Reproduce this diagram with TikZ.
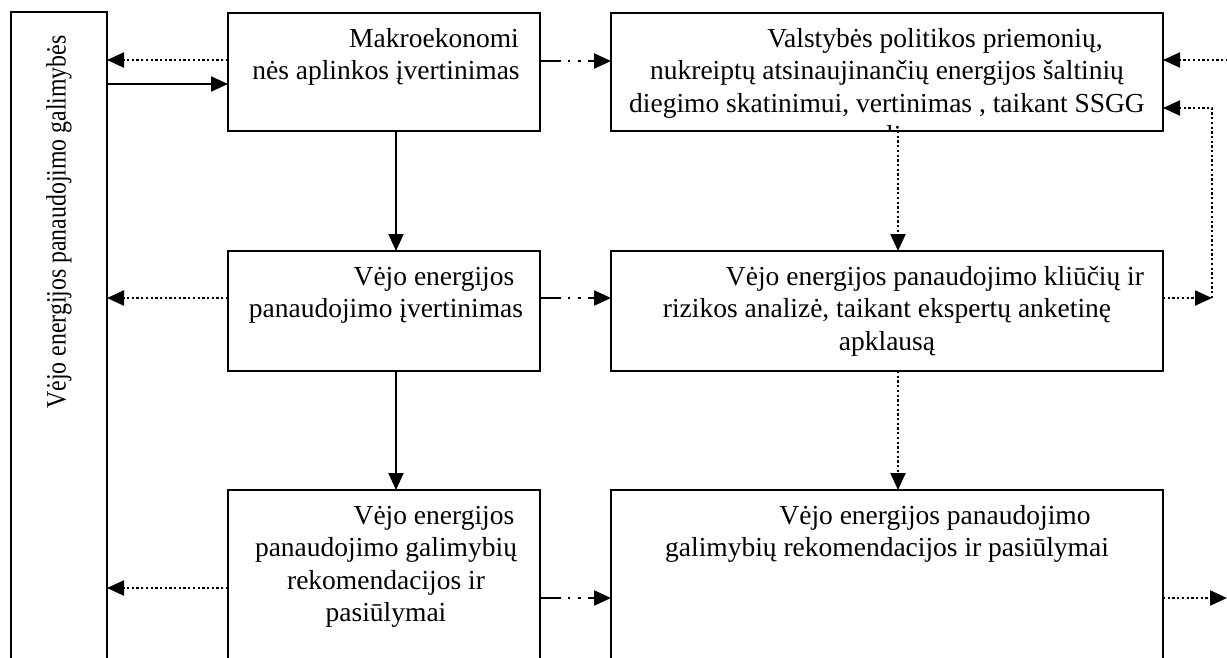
\documentclass[tikz,border=0pt]{standalone}
\usepackage{fontspec}
\setmainfont{Liberation Serif}
\usetikzlibrary{arrows.meta}
\begin{document}
\begin{tikzpicture}[x=1pt,y=-1pt,
  box/.style={draw, line width=1.8pt, anchor=north west, inner sep=0pt, outer sep=0pt},
  txt/.style={anchor=north, align=center, inner sep=0pt, font=\fontsize{27.5}{32.5}\selectfont},
  tip/.style={-{Triangle[length=17pt,width=15pt]}},
  sol/.style={tip, line width=2pt},
  dotl/.style={tip, line width=2.2pt, dash pattern=on 2.3pt off 2.4pt},
  ddl/.style={tip, line width=2.2pt, dash pattern=on 21pt off 7pt on 2.3pt off 8pt on 2.3pt off 7pt}]
\clip (0,0) rectangle (1227,657);
\fill[white] (0,0) rectangle (1227,657);
% boxes
\node[box, minimum width=96pt, minimum height=700pt] (L) at (11,12) {};
\node[box, minimum width=312pt, minimum height=118pt] (A) at (228,13) {};
\node[box, minimum width=552pt, minimum height=118pt] (B) at (611,13) {};
\node[box, minimum width=312pt, minimum height=120pt] (C) at (228,251) {};
\node[box, minimum width=552pt, minimum height=120pt] (D) at (611,251) {};
\node[box, minimum width=312pt, minimum height=250pt] (E) at (228,490) {};
\node[box, minimum width=552pt, minimum height=250pt] (F) at (611,490) {};
% texts
\node[rotate=90, inner sep=0pt, font=\fontsize{28}{32}\selectfont] (Lt) at (59,222) {\scalebox{0.85}[1]{Vėjo energijos panaudojimo galimybės}};
\node[txt] (At) at (386,25) {\rule{0pt}{22pt}\hspace*{96pt}Makroekonomi\\nės aplinkos įvertinimas};
\begin{scope}
\clip (B.north west) rectangle (B.south east);
\node[txt] (Bt) at (887,25) {\rule{0pt}{22pt}\hspace*{96pt}Valstybės politikos priemonių,\\nukreiptų atsinaujinančių energijos šaltinių\\diegimo skatinimui, vertinimas , taikant SSGG\\analizę};
\end{scope}
\node[txt] (Ct) at (386,263) {\rule{0pt}{22pt}\hspace*{96pt}Vėjo energijos\\panaudojimo įvertinimas};
\node[txt] (Dt) at (887,263) {\rule{0pt}{22pt}\hspace*{96pt}Vėjo energijos panaudojimo kliūčių ir\\rizikos analizė, taikant ekspertų anketinę\\apklausą};
\node[txt] (Et) at (386,502) {\rule{0pt}{22pt}\hspace*{96pt}Vėjo energijos\\panaudojimo galimybių\\rekomendacijos ir\\pasiūlymai};
\node[txt] (Ft) at (887,502) {\rule{0pt}{22pt}\hspace*{96pt}Vėjo energijos panaudojimo\\galimybių rekomendacijos ir pasiūlymai};
% free ends on the right
\coordinate (r1) at (1228,60);
\coordinate (r2) at (1212,108);
\coordinate (r3) at (1212,298);
\coordinate (r4) at (1227,598);
% left connectors
\draw[dotl] (A.west |- 0,60) -- (L.east |- 0,60);
\draw[sol] (L.east |- 0,84) -- (A.west |- 0,84);
\draw[dotl] (C.west |- 0,298) -- (L.east |- 0,298);
\draw[dotl] (E.west |- 0,588) -- (L.east |- 0,588);
% middle connectors
\draw[ddl] (A.east |- 0,61) -- (B.west |- 0,61);
\draw[ddl] (C.east |- 0,298) -- (D.west |- 0,298);
\draw[ddl] (E.east |- 0,598) -- (F.west |- 0,598);
% vertical connectors
\draw[sol] (A.south -| 396,0) -- (C.north -| 396,0);
\draw[sol] (C.south -| 396,0) -- (E.north -| 396,0);
\draw[dotl] (B.south -| 898,0) -- (D.north -| 898,0);
\draw[dotl] (D.south -| 898,0) -- (F.north -| 898,0);
% right connectors
\draw[dotl] (r1) -- (B.east |- r1);
\draw[dotl] (D.east |- r3) -- (r3);
\draw[dotl] (r3) -- (r2) -- (B.east |- r2);
\draw[dotl] (F.east |- r4) -- (r4);
\end{tikzpicture}
\end{document}
